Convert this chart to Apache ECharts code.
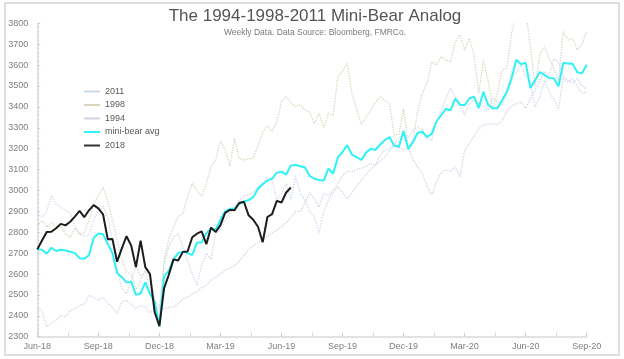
<!DOCTYPE html>
<html><head><meta charset="utf-8">
<script src="https://cdn.jsdelivr.net/npm/echarts@6/dist/echarts.min.js"></script>
<style>html,body{margin:0;padding:0;background:#fff}#c{width:624px;height:359px}</style>
</head><body><div id="c"></div>
<script>
// x tick labels, one every 13 weeks
const tickLabels = ['Jun-18','Sep-18','Dec-18','Mar-19','Jun-19','Sep-19','Dec-19','Mar-20','Jun-20','Sep-20'];
const weeksPerTick = 13;

const s2018 = [2718,2760,2801,2802,2819,2840,2833,2850,2875,2902,2872,2905,2930,2914,2886,2767,2768,2659,2723,2781,2736,2633,2760,2633,2600,2417,2351,2532,2596,2670,2665,2706,2708,2776,2793,2804,2743,2822,2801,2834,2893,2907,2905,2940,2946,2881,2860,2826,2752,2873,2887,2950,2942,2990,3014];

const sAvg = [2718,2716,2697,2726,2710,2716,2713,2707,2700,2676,
2673,2690,2772,2794,2790,2745,2700,2605,2585,2560,
2562,2500,2508,2560,2505,2466,2348,2590,2615,2670,
2700,2707,2700,2691,2750,2752,2795,2818,2812,2860,
2900,2912,2914,2936,2946,2954,2968,3008,3030,3048,
3056,3085,3090,3076,3120,3122,3116,3110,3070,3056,
3050,3047,3104,3080,3158,3184,3217,3172,3160,3146,
3180,3200,3194,3220,3240,3256,3214,3209,3284,3198,
3232,3275,3281,3256,3272,3330,3360,3390,3384,3440,
3410,3408,3440,3449,3394,3472,3410,3393,3394,3432,
3472,3536,3626,3604,3612,3490,3528,3567,3553,3538,
3537,3498,3610,3608,3606,3566,3561,3602];

const s1998 = [2830,2855,2825,2848,2825,2830,2790,2775,2820,2790,
2800,2855,2935,2975,3015,2950,2860,2760,2670,2610,
2600,2525,2570,2620,2590,2470,2390,2665,2765,2825,
2875,2890,2970,3035,3000,2970,3035,3115,3145,3240,
3195,3115,3250,3155,3145,3150,3155,3215,3280,3310,
3280,3330,3425,3450,3420,3400,3410,3385,3375,3320,
3370,3300,3370,3355,3545,3570,3610,3465,3390,3315,
3350,3385,3420,3450,3430,3415,3265,3270,3390,3210,
3240,3380,3465,3515,3615,3600,3640,3625,3615,3710,
3745,3672,3728,3648,3465,3624,3529,3385,3473,3576,
3585,3752,3850,3900,3860,3690,3500,3650,3690,3630,
3585,3520,3760,3720,3728,3672,3700,3760];

const s2011 = [2890,2870,2900,2975,2935,2920,2905,2895,2830,2790,
2780,2785,2860,2900,2925,2870,2760,2620,2530,2505,
2570,2635,2590,2610,2520,2470,2440,2640,2730,2775,
2795,2730,2665,2600,2545,2640,2700,2670,2795,2815,
2858,2890,2922,2954,2970,2980,2990,3018,3034,3066,
3050,2954,2986,3034,2954,3066,2986,2954,2900,2874,
2795,2900,2954,2990,3018,2990,2960,2990,3020,3050,
3076,3100,3120,3140,3160,3190,3220,3250,3270,3250,
3290,3305,3290,3250,3240,3330,3380,3440,3489,3449,
3417,3361,3417,3433,3417,3401,3385,3441,3425,3409,
3470,3570,3565,3600,3545,3515,3400,3445,3525,3475,
3435,3390,3540,3520,3535,3497,3465,3473];

const s1994 = [2440,2425,2348,2365,2380,2403,2395,2425,2434,2450,
2455,2497,2490,2475,2490,2460,2442,2411,2466,2474,
2458,2434,2450,2442,2415,2430,2434,2434,2440,2442,
2458,2480,2490,2505,2515,2535,2545,2570,2585,2600,
2620,2630,2640,2660,2690,2715,2735,2750,2765,2780,
2795,2810,2826,2845,2870,2898,2900,2940,2990,2960,
2920,2985,2975,3000,3034,3070,3090,3090,3100,3106,
3114,3130,3120,3170,3190,3202,3217,3205,3194,3202,
3150,3110,3082,3018,2978,3040,3085,3098,3090,3114,
3066,3190,3225,3260,3295,3313,3318,3320,3315,3335,
3380,3405,3415,3425,3393,3440,3480,3525,3570,3550,
3630,3612,3550,3525,3515,3535,3500,3485];

const pts = arr => arr.map((v, i) => [i, v]);
const FONT = 'Liberation Sans, Arial, sans-serif';
const C2011 = '#cdd8ec', C1998 = '#dbd4bf', C1994 = '#d2d2e8', CAVG = '#2ef2f5', C2018 = '#1c1c1c';

const chart = echarts.init(document.getElementById('c'), null, {renderer: 'canvas'});
chart.setOption({
  animation: false,
  backgroundColor: '#fff',
  textStyle: {fontFamily: FONT},
  graphic: [{
    type: 'rect', z: -1,
    shape: {x: 5, y: 3, width: 614, height: 352},
    style: {fill: 'none', stroke: '#d6d6d6', lineWidth: 1.5}
  }],
  title: {
    text: 'The 1994-1998-2011 Mini-Bear Analog',
    subtext: 'Weekly Data. Data Source: Bloomberg, FMRCo.',
    left: 315, textAlign: 'center', top: 8, padding: 0, itemGap: 3,
    textStyle: {fontFamily: FONT, fontSize: 17, fontWeight: 'normal', color: '#555555'},
    subtextStyle: {fontFamily: FONT, fontSize: 8.5, color: '#7a7a7a'}
  },
  legend: {
    orient: 'vertical', left: 84, top: 86.5, padding: 0,
    itemWidth: 16, itemHeight: 2, itemGap: 3.5,
    textStyle: {fontFamily: FONT, fontSize: 9, color: '#595959', lineHeight: 10, height: 10},
    data: [
      {name: '2011', icon: 'rect', itemStyle: {color: C2011}},
      {name: '1998', icon: 'rect', itemStyle: {color: C1998}},
      {name: '1994', icon: 'rect', itemStyle: {color: C1994}},
      {name: 'mini-bear avg', icon: 'rect', itemStyle: {color: CAVG}},
      {name: '2018', icon: 'rect', itemStyle: {color: '#333'}}
    ]
  },
  grid: {left: 37.3, right: 37.3, top: 23.3, bottom: 22.3, containLabel: false},
  xAxis: {
    type: 'value', min: 0, max: 117, interval: weeksPerTick,
    axisLine: {lineStyle: {color: '#d9d9d9', width: 1.5}},
    axisTick: {inside: true, length: 4, lineStyle: {color: '#d0d0d0'}},
    minorTick: {show: true, splitNumber: 2, length: 4, lineStyle: {color: '#d9d9d9'}},
    splitLine: {show: false},
    axisLabel: {
      fontFamily: FONT, fontSize: 9, color: '#7f7f7f', margin: 5,
      formatter: v => tickLabels[Math.round(v / weeksPerTick)] || ''
    }
  },
  yAxis: {
    type: 'value', min: 2300, max: 3800, interval: 100,
    axisLine: {show: true, lineStyle: {color: '#d9d9d9', width: 1.5}},
    axisTick: {show: true, inside: true, length: 3, lineStyle: {color: '#cfcfcf'}},
    minorTick: {show: true, splitNumber: 5, length: 2, lineStyle: {color: '#d9d9d9'}},
    splitLine: {show: false},
    axisLabel: {fontFamily: FONT, fontSize: 9, color: '#7f7f7f', margin: 9, formatter: v => String(v)}
  },
  series: [
    {name: '2011', type: 'line', data: pts(s2011), symbol: 'none', z: 1, clip: true,
     lineStyle: {color: C2011, width: 1.3, type: 'dotted'}, itemStyle: {color: C2011}},
    {name: '1998', type: 'line', data: pts(s1998), symbol: 'none', z: 1, clip: true,
     lineStyle: {color: C1998, width: 1.3, type: 'dotted'}, itemStyle: {color: C1998}},
    {name: '1994', type: 'line', data: pts(s1994), symbol: 'none', z: 1, clip: true,
     lineStyle: {color: C1994, width: 1.3, type: 'dotted'}, itemStyle: {color: C1994}},
    {name: 'mini-bear avg', type: 'line', data: pts(sAvg), symbol: 'none', z: 3, clip: true,
     lineStyle: {color: CAVG, width: 2}, itemStyle: {color: CAVG}},
    {name: '2018', type: 'line', data: pts(s2018), symbol: 'none', z: 4, clip: true,
     lineStyle: {color: C2018, width: 2}, itemStyle: {color: C2018}}
  ]
});
</script></body></html>
